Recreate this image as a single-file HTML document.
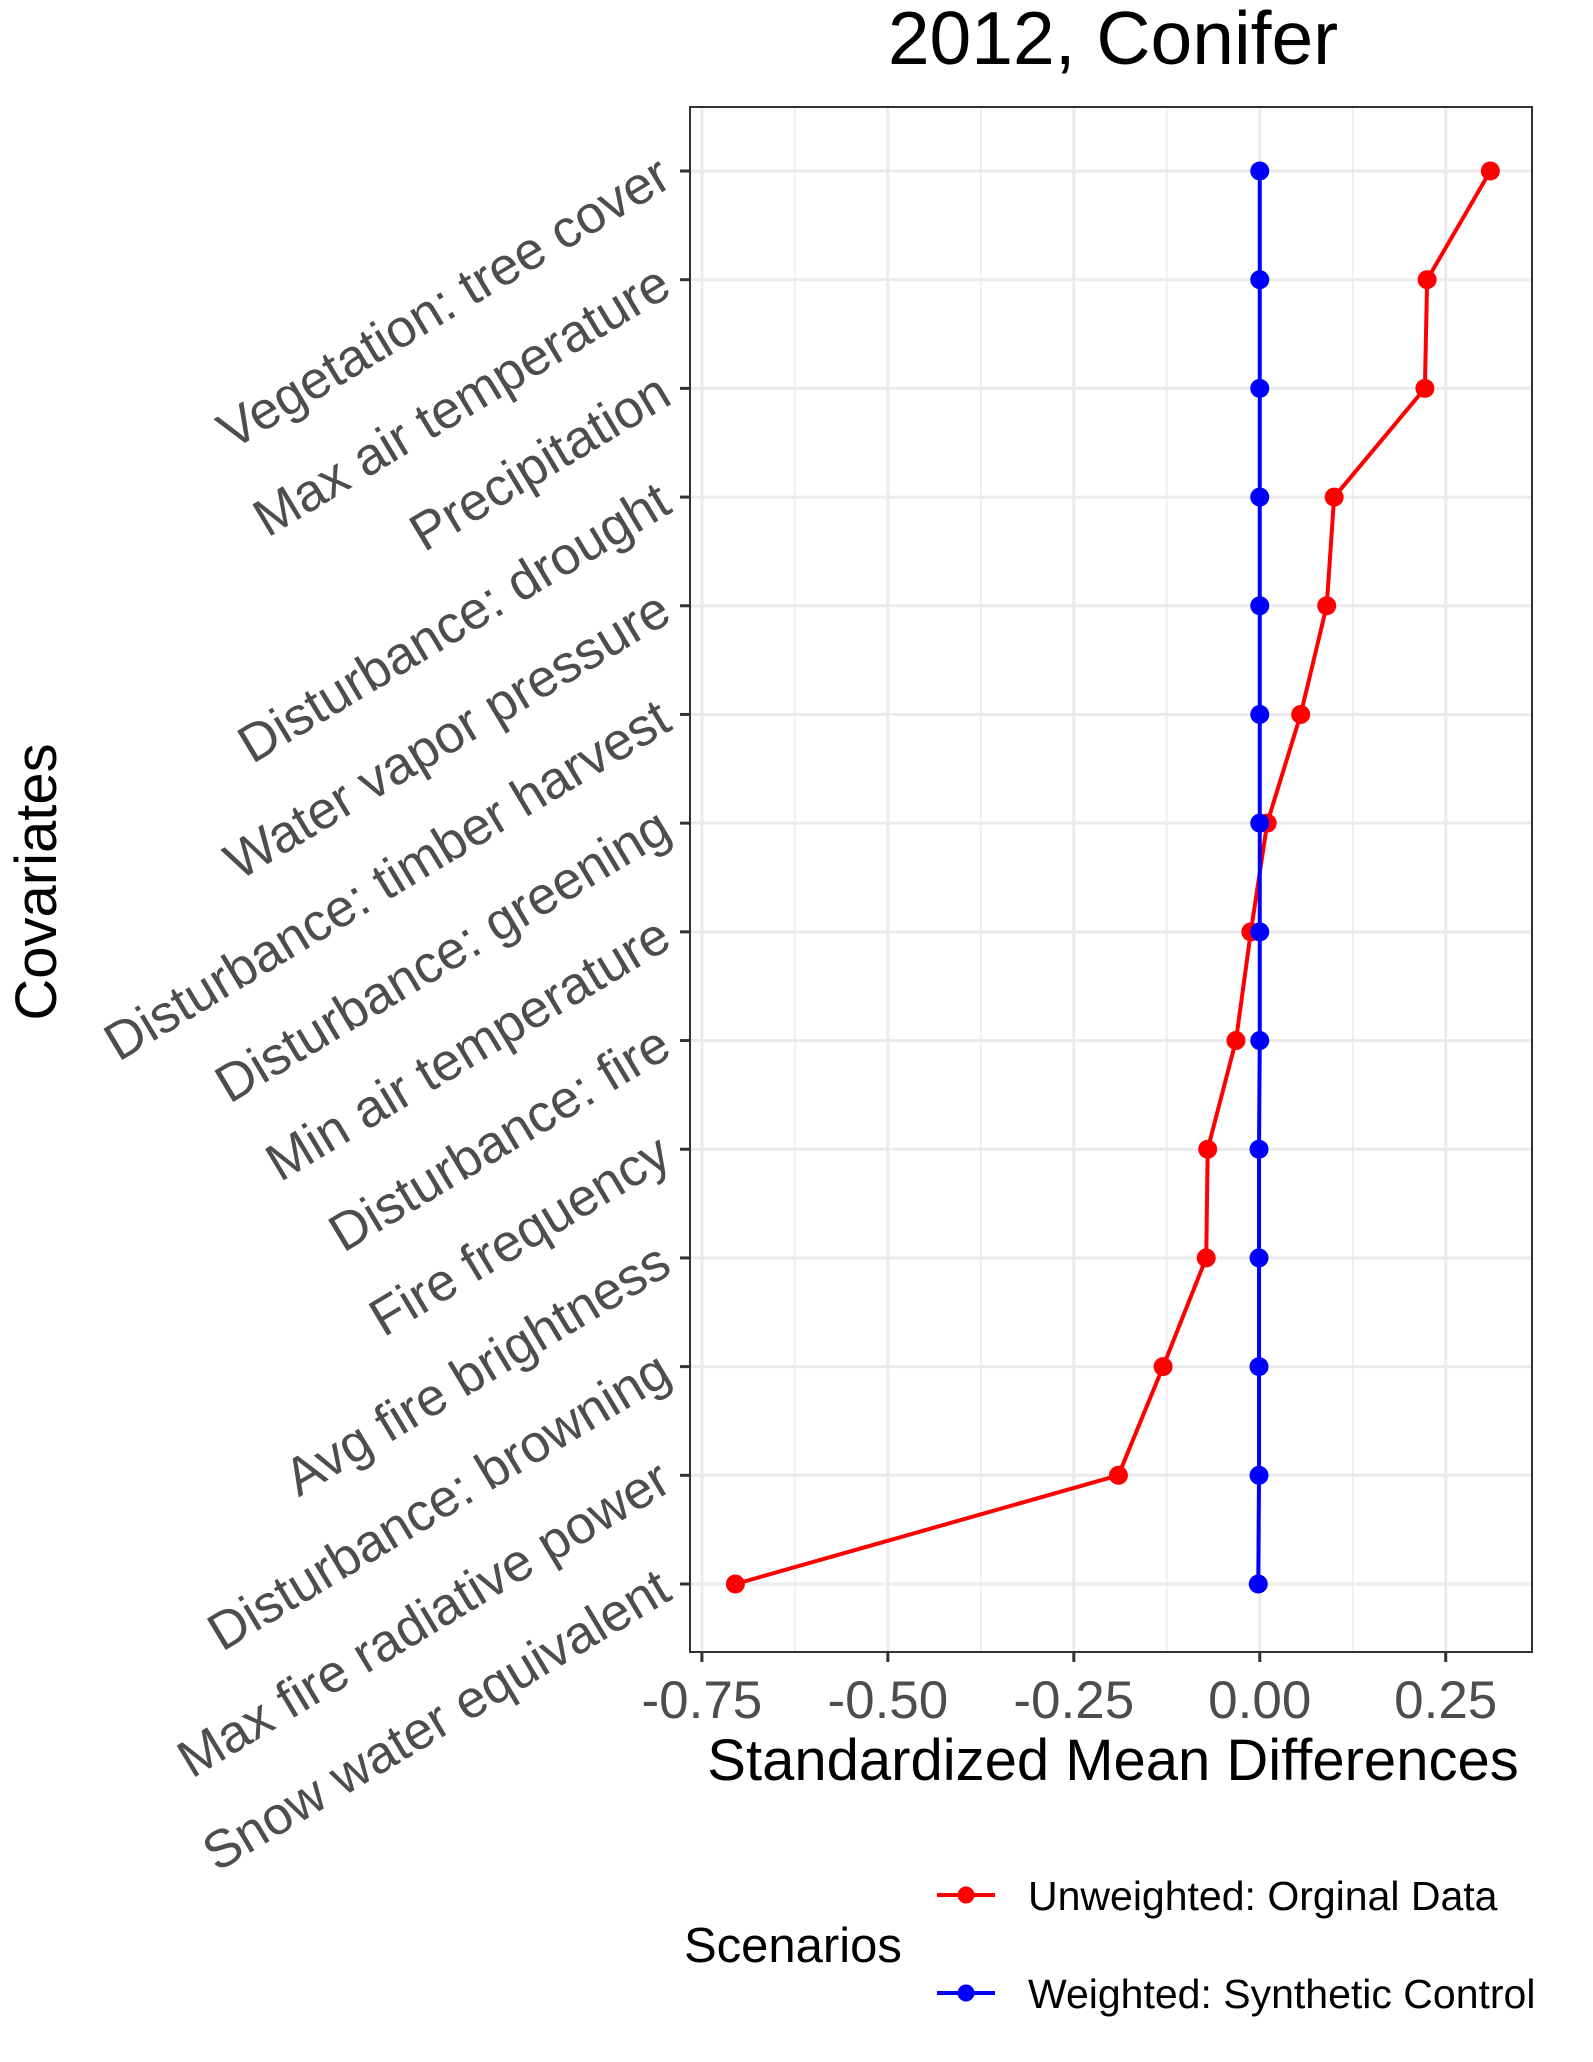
<!DOCTYPE html>
<html><head><meta charset="utf-8"><style>
body{margin:0;background:#fff}
svg{display:block;font-family:"Liberation Sans",sans-serif}
</style></head><body>
<svg id="chart" width="1593" height="2062" viewBox="0 0 1593 2062">
<text x="1113" y="64" font-size="75" text-anchor="middle" fill="#000">2012, Conifer</text>
<g id="plot"></g>
<text x="1113" y="1780" font-size="58" text-anchor="middle" fill="#000">Standardized Mean Differences</text>
<text transform="translate(56,882) rotate(-90)" font-size="58" text-anchor="middle" fill="#000">Covariates</text>
<text x="684" y="1962" font-size="49" fill="#000">Scenarios</text>
<g>
<line x1="937" y1="1895" x2="995" y2="1895" stroke="#ff0000" stroke-width="4"/>
<circle cx="966" cy="1895" r="8.5" fill="#ff0000"/>
<text x="1028" y="1910" font-size="41" fill="#000">Unweighted: Orginal Data</text>
</g>
<g>
<line x1="937" y1="1993" x2="995" y2="1993" stroke="#0000ff" stroke-width="4"/>
<circle cx="966" cy="1993" r="8.5" fill="#0000ff"/>
<text x="1028" y="2008" font-size="41" fill="#000">Weighted: Synthetic Control</text>
</g>
</svg>
<script>
const categories=["Vegetation: tree cover","Max air temperature","Precipitation","Disturbance: drought","Water vapor pressure","Disturbance: timber harvest","Disturbance: greening","Min air temperature","Disturbance: fire","Fire frequency","Avg fire brightness","Disturbance: browning","Max fire radiative power","Snow water equivalent"];
const unweighted=[0.31,0.225,0.222,0.10,0.09,0.055,0.01,-0.012,-0.032,-0.07,-0.072,-0.13,-0.19,-0.705];
const weighted=[0,0,0,0,0,0,0,0,0,-0.001,-0.001,-0.001,-0.001,-0.002];
const xTicks=[-0.75,-0.5,-0.25,0,0.25];
const xTickLabels=["-0.75","-0.50","-0.25","0.00","0.25"];
const NS="http://www.w3.org/2000/svg";
const L=690,R=1532,T=107,B=1652;
const xmin=-0.766,xmax=0.366;
const x=v=>L+(v-xmin)/(xmax-xmin)*(R-L);
const row0=171,row1=1584;
const y=i=>row0+i*(row1-row0)/(categories.length-1);
const g=document.getElementById('plot');
function mk(tag,attrs,parent){const e=document.createElementNS(NS,tag);for(const k in attrs)e.setAttribute(k,attrs[k]);(parent||g).appendChild(e);return e;}
for(let i=0;i<xTicks.length;i++){
  const mv=xTicks[i]+0.125;
  if(mv<xmax){const m=mk('line',{x1:x(mv),x2:x(mv),y1:T,y2:B,stroke:'#ebebeb','stroke-width':1.5});
  
  }
}
for(let i=0;i<xTicks.length;i++){
  const gl=mk('line',{x1:x(xTicks[i]),x2:x(xTicks[i]),y1:T,y2:B,stroke:'#ebebeb','stroke-width':3});
  
  
  const tk=mk('line',{x1:x(xTicks[i]),x2:x(xTicks[i]),y1:B,y2:B+10,stroke:'#333','stroke-width':3});
  
  
  const t=mk('text',{x:x(xTicks[i]),y:1718,'font-size':53,'text-anchor':'middle',fill:'#4d4d4d'});
  t.textContent=xTickLabels[i];
  
  
}
categories.forEach((c,i)=>{
  const gl=mk('line',{x1:L,x2:R,y1:y(i),y2:y(i),stroke:'#ebebeb','stroke-width':3});
  
  
  const tk=mk('line',{x1:L-10,x2:L,y1:y(i),y2:y(i),stroke:'#333','stroke-width':3});
  
  
  const t=mk('text',{transform:`translate(${L-16},${y(i)+14}) rotate(-31)`,'font-size':53,'text-anchor':'end',fill:'#4d4d4d'});
  t.textContent=c;
  
  
});
function series(vals,color,name){
  const p=mk('polyline',{points:vals.map((v,i)=>x(v)+','+y(i)).join(' '),fill:'none',stroke:color,'stroke-width':4});
  
  
  vals.forEach((v,i)=>{
    const c=mk('circle',{cx:x(v),cy:y(i),r:9.5,fill:color});
    
    
  });
}
series(unweighted,'#ff0000','unweighted');
series(weighted,'#0000ff','weighted');
const fr=mk('rect',{x:L,y:T,width:R-L,height:B-T,fill:'none',stroke:'#333','stroke-width':2});


</script>
</body></html>
